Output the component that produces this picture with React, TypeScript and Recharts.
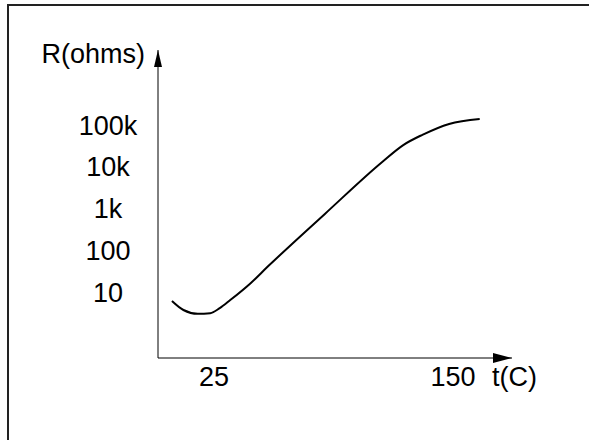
import React from "react";
import { LineChart, Line, XAxis, YAxis } from "recharts";

// thermistor curve
const temps = [3, 9, 16.5, 23, 28, 33.5, 44, 53, 83, 113, 124, 134, 148, 164];
const ohms = [6.1, 3.7, 3.0, 3.1, 4.1, 6.4, 16, 40, 740, 13000, 33000, 58000, 106000, 139000];

const xTicks = [25, 150];
const yTicks = [10, 100, 1000, 10000, 100000];
const yTickLabels = ["10", "100", "1k", "10k", "100k"];

const data = temps.map((t, i) => ({ t, r: ohms[i] }));

const FONT = "'Liberation Sans', Arial, sans-serif";
const FS = 27;

const YTick = (props: any) => {
    const { y, payload } = props;
    const idx = yTicks.indexOf(payload.value);
    return (
        <text x={108} y={y} dy="0.355em" textAnchor="middle" fontSize={FS} fontFamily={FONT} fill="#000">
            {yTickLabels[idx]}
        </text>
    );
};

const XTick = (props: any) => {
    const { x, y, payload } = props;
    return (
        <text x={x} y={y} dy={28} textAnchor="middle" fontSize={FS} fontFamily={FONT} fill="#000">
            {payload.value}
        </text>
    );
};

const App = () => {
    return (
        <div style={{ position: "relative", width: 589, height: 440, overflow: "hidden", background: "#fff" }}>
            <style>{"body{margin:0}"}</style>
            <div
                style={{
                    position: "absolute",
                    left: 7,
                    top: 4,
                    width: 600,
                    height: 460,
                    borderTop: "2px solid #222",
                    borderLeft: "2px solid #222",
                }}
            />
            <svg width={0} height={0} style={{ position: "absolute" }}>
                <defs>
                    <marker id="arrowX" markerUnits="userSpaceOnUse" markerWidth={20} markerHeight={11} refX={19} refY={5} orient="auto">
                        <path d="M0,0 L19,5 L0,10 z" fill="#000" />
                    </marker>
                    <marker id="arrowY" markerUnits="userSpaceOnUse" markerWidth={18} markerHeight={9} refX={17} refY={4} orient="auto-start-reverse">
                        <path d="M0,0 L17,4 L0,8 z" fill="#000" />
                    </marker>
                </defs>
            </svg>
            <div style={{ position: "absolute", left: 0, top: 0 }}>
                <LineChart width={589} height={440} data={data} margin={{ top: 50, right: 77, bottom: 52, left: 58 }}>
                    <XAxis
                        dataKey="t"
                        type="number"
                        domain={[-4.3, 180.9]}
                        ticks={xTicks}
                        height={30}
                        tickLine={false}
                        tickSize={0}
                        tickMargin={0}
                        tick={<XTick />}
                        axisLine={{ stroke: "#000", strokeWidth: 1, markerEnd: "url(#arrowX)" } as any}
                        label={{
                            content: () => (
                                <text x={492} y={386} fontSize={FS} fontFamily={FONT} fill="#000">
                                    t(C)
                                </text>
                            ),
                        }}
                    />
                    <YAxis
                        dataKey="r"
                        type="number"
                        scale="log"
                        domain={[0.262, 6250000]}
                        ticks={yTicks}
                        width={100}
                        tickLine={false}
                        tick={<YTick />}
                        axisLine={{ stroke: "#000", strokeWidth: 1, markerStart: "url(#arrowY)" } as any}
                        label={{
                            content: () => (
                                <text x={145} y={63} textAnchor="end" fontSize={FS} fontFamily={FONT} fill="#000">
                                    R(ohms)
                                </text>
                            ),
                        }}
                    />
                    <Line
                        type="monotone"
                        dataKey="r"
                        stroke="#000"
                        strokeWidth={2}
                        dot={false}
                        isAnimationActive={false}
                    />
                </LineChart>
            </div>
        </div>
    );
};

export default App;
